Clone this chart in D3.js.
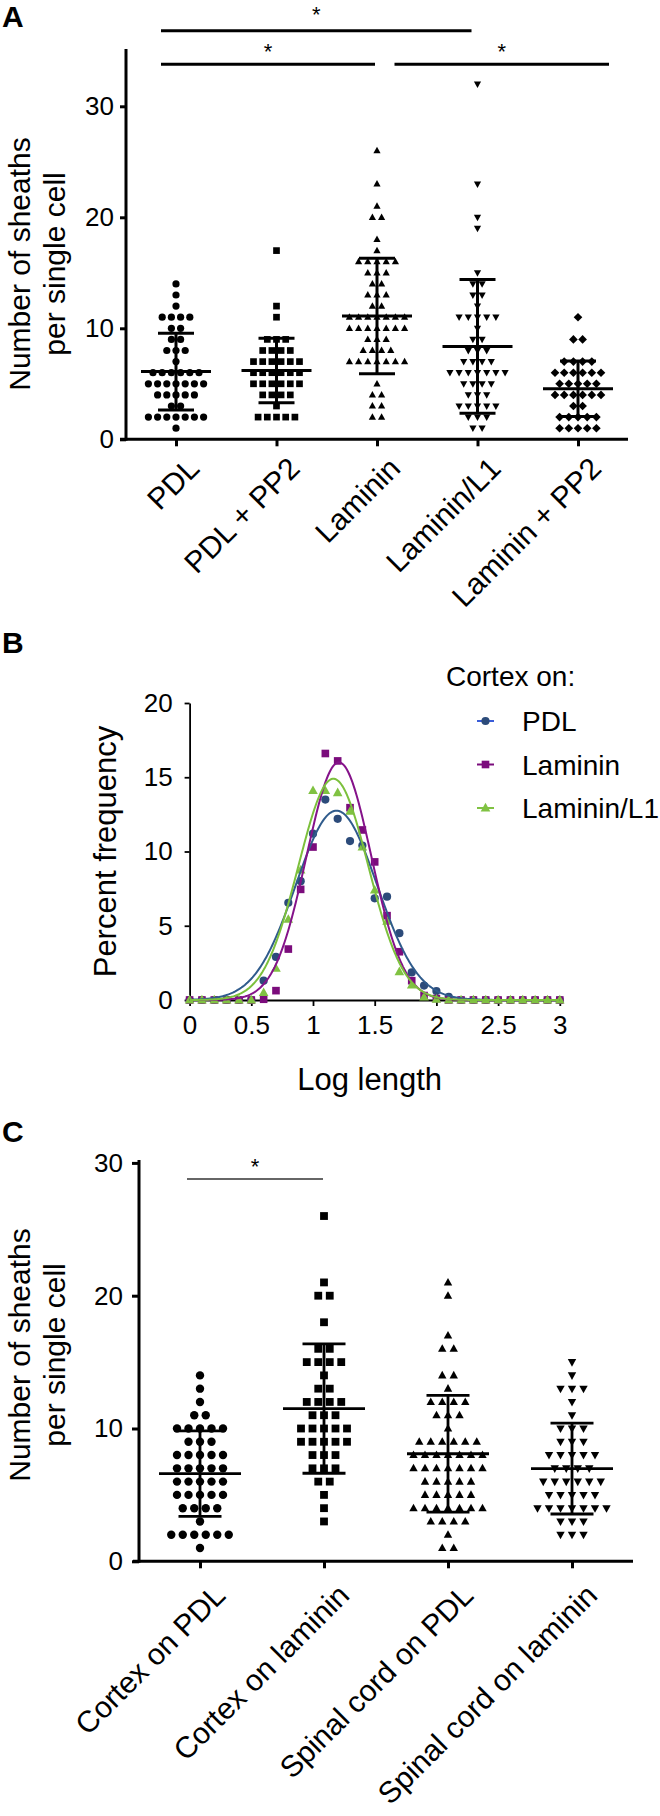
<!DOCTYPE html>
<html><head><meta charset="utf-8">
<script src="https://cdn.jsdelivr.net/npm/d3@7/dist/d3.min.js"></script>
<style>
body{margin:0;background:#fff}
svg{display:block}
text{font-family:"Liberation Sans",Arial,Helvetica,sans-serif;fill:#000}
</style>
</head><body>
<svg id="c" width="660" height="1816"></svg>
<script>
// ---------------- Panel A data ----------------
const catsA = ["PDL", "PDL + PP2", "Laminin", "Laminin/L1", "Laminin + PP2"];
const aPDL = [14,13,12,11,11,11,11,10,10,9,9,8,8,8,7,6,6,6,6,6,6,5,5,5,5,5,5,5,4,4,4,4,4,3,3,2,2,2,2,2,2,2,1];
const aPDLPP2 = [17,12,11,9,9,9,8,8,8,8,7,7,7,7,7,7,6,6,6,6,6,6,5,5,5,5,5,5,4,4,4,4,3,2,2,2,2,2];
const aLam = [26,23,21,20,20,18,17,16,16,16,16,16,15,15,15,14,14,13,13,13,12,12,11,11,11,11,11,11,11,10,10,10,10,10,10,10,9,9,9,8,8,8,8,7,7,7,7,7,7,7,5,4,4,3,3,2,2];
const aLamL1 = [32,23,20,19,15,14,14,13,13,12,11,11,11,11,11,10,9,9,8,8,8,7,7,7,7,6,6,6,6,6,6,6,5,5,5,5,4,4,4,3,3,3,3,3,2,2,2,1,1];
const aLamPP2 = [11,9,9,7,7,7,7,6,6,6,6,6,6,5,5,5,5,5,4,4,4,4,4,4,3,3,2,2,2,2,2,1,1,1,1,1];
const meansA = [6.1, 6.2, 11.1, 8.37, 4.55];
const sdsA = [3.45, 2.9, 5.2, 6.03, 2.5];
const yTicksA = [0, 10, 20, 30];

// ---------------- Panel B data ----------------
const logLength = [0,0.1,0.2,0.3,0.4,0.5,0.6,0.7,0.8,0.9,1.0,1.1,1.2,1.3,1.4,1.5,1.6,1.7,1.8,1.9,2.0,2.1,2.2,2.3,2.4,2.5,2.6,2.7,2.8,2.9,3.0];
const freqPDL = [0,0,0,0,0,0,1.3,2.9,6.55,8.0,11.2,13.5,12.2,10.7,10.4,6.85,6.96,4.5,1.86,0.97,0.6,0.22,0,0,0,0,0,0,0,0,0];
const freqLam = [0,0,0,0,0,0,0.05,0.63,3.43,7.45,10.3,16.6,16.1,12.95,11.45,9.3,5.68,3.25,1.3,0.3,0.1,0,0,0,0,0,0,0,0,0,0];
const freqL1  = [0,0,0,0,0,0,0.5,2.13,5.43,8.75,14.1,14.1,13.96,12.7,10.3,7.4,5.3,1.9,1.0,0.2,0.05,0,0,0,0,0,0,0,0,0,0];
const seriesB = ["PDL", "Laminin", "Laminin/L1"];
// Gaussian fit parameters: [amplitude, mean, sd]
const fitPDL = [12.75, 1.19, 0.33];
const fitLam = [16.0, 1.21, 0.262];
const fitL1  = [14.9, 1.165, 0.283];
const xTicksB = [0, 0.5, 1, 1.5, 2, 2.5, 3];
const yTicksB = [0, 5, 10, 15, 20];

// ---------------- Panel C data ----------------
const catsC = ["Cortex on PDL", "Cortex on laminin", "Spinal cord on PDL", "Spinal cord on laminin"];
const cCtxPDL = [14,13,12,11,11,10,10,10,10,10,9,9,9,8,8,8,8,8,7,7,7,7,7,6,6,6,6,6,5,5,5,5,5,4,4,4,4,3,2,2,2,2,2,2,1];
const cCtxLam = [26,21,20,20,18,16,16,15,15,15,15,14,13,13,12,12,12,12,11,11,11,10,10,10,10,10,9,9,9,9,9,8,8,8,7,7,7,6,6,5,4,3];
const cSpPDL = [21,20,17,16,16,14,14,13,12,12,12,12,11,11,11,10,9,9,9,9,9,9,8,8,8,8,8,8,8,7,7,7,7,7,7,7,6,6,6,6,6,5,5,5,5,5,4,4,4,4,4,4,4,3,3,3,3,2,1,1];
const cSpLam = [15,14,13,13,13,12,11,10,10,10,9,9,9,8,8,8,8,8,7,7,7,7,6,6,6,6,6,6,5,5,5,5,5,4,4,4,4,4,4,4,3,3,3,2,2,2];
const meansC = [6.6, 11.5, 8.1, 6.98];
const sdsC = [3.22, 4.87, 4.4, 3.42];
const yTicksC = [0, 10, 20, 30];

// ---------------- helpers ----------------
const svg = d3.select("#c");
const purple = "#7b0c7c", navy = "#2c4b7a", green = "#80c242";

function swarm(values, spacing) {
  const out = [];
  for (const [v, arr] of d3.group(values, d => d)) {
    const n = arr.length;
    arr.forEach((_, i) => out.push({ v, off: (i - (n - 1) / 2) * spacing }));
  }
  return out;
}
function shapePath(kind, s) {
  const h = s / 2;
  if (kind === "circle") return d3.symbol(d3.symbolCircle, Math.PI * h * h)();
  if (kind === "square") { const q = h * 0.93; return `M${-q},${-q}H${q}V${q}H${-q}Z`; }
  if (kind === "diamond") { const r = h * 1.2; return `M0,${-r}L${r},0L0,${r}L${-r},0Z`; }
  const th = s * 0.9;
  if (kind === "up") return `M0,${-th * 0.6}L${h},${th * 0.4}L${-h},${th * 0.4}Z`;
  if (kind === "down") return `M0,${th * 0.6}L${h},${-th * 0.4}L${-h},${-th * 0.4}Z`;
}

function scatterPanel(opt) {
  const g = svg.append("g");
  const x = d3.scalePoint(opt.cats, opt.xRange);
  const y = d3.scaleLinear(opt.yDomain, opt.yRange);
  opt.data.forEach((vals, i) => {
    const pts = swarm(vals, opt.spacing);
    g.append("g").selectAll("path").data(pts).join("path")
      .attr("d", shapePath(opt.shapes[i], opt.size))
      .attr("transform", d => `translate(${x(opt.cats[i]) + d.off},${y(d.v)})`)
      .attr("fill", "#000");
  });
  opt.cats.forEach((c, i) => {
    const cx = x(c), m = opt.means[i], s = opt.sds[i];
    const line = (x1, y1, x2, y2) => g.append("line")
      .attr("x1", x1).attr("y1", y1).attr("x2", x2).attr("y2", y2)
      .attr("stroke", "#000").attr("stroke-width", opt.lw);
    line(cx, y(m - s), cx, y(m + s));
    line(cx - opt.capW / 2, y(m + s), cx + opt.capW / 2, y(m + s));
    line(cx - opt.capW / 2, y(m - s), cx + opt.capW / 2, y(m - s));
    line(cx - opt.meanW / 2, y(m), cx + opt.meanW / 2, y(m));
  });
  const ya = g.append("g").attr("transform", `translate(${opt.axisX},0)`)
    .call(d3.axisLeft(y).tickValues(opt.yTicks).tickSize(opt.tickLen).tickSizeOuter(0).tickPadding(opt.tickPad));
  ya.select(".domain").attr("stroke-width", opt.axisW).attr("d", `M0,${y(0) + opt.axisW / 2}V${opt.axisTop}`);
  ya.selectAll(".tick line").attr("stroke-width", opt.axisW);
  ya.selectAll(".tick text").attr("font-size", opt.tickFont).attr("font-family", null);
  const xa = g.append("g").attr("transform", `translate(0,${y(0)})`)
    .call(d3.axisBottom(x).tickSize(opt.xTickLen).tickSizeOuter(0).tickFormat(""));
  xa.select(".domain").attr("stroke-width", opt.axisW)
    .attr("d", `M${opt.xLineStart},0H${opt.xLineEnd}`);
  xa.selectAll(".tick line").attr("stroke-width", opt.axisW);
  g.append("g").selectAll("text").data(opt.cats).join("text")
    .attr("transform", d => `translate(${x(d) + opt.labDx},${y(0) + opt.labDy}) rotate(-45)`)
    .attr("text-anchor", "end").attr("font-size", opt.labFont).text(d => d);
  const t = g.append("text").attr("transform", `translate(0,${opt.titleY}) rotate(-90)`)
    .attr("text-anchor", "middle").attr("font-size", opt.titleFont);
  opt.title.forEach((line, i) => t.append("tspan").attr("x", 0).attr("y", opt.titleX[i]).text(line));
  return { x, y, g };
}

// ---------------- Panel A ----------------
const A = scatterPanel({
  cats: catsA, xRange: [176, 578], yDomain: [0, 35], yRange: [439.3, 50.8],
  data: [aPDL, aPDLPP2, aLam, aLamL1, aLamPP2],
  shapes: ["circle", "square", "up", "down", "diamond"],
  spacing: 9.2, size: 7.2, means: meansA, sds: sdsA, lw: 3, meanW: 70, capW: 36,
  axisX: 126, axisTop: 49, axisW: 3, yTicks: yTicksA, tickLen: 6, tickPad: 6, tickFont: 26,
  xTickLen: 7, xLineStart: 120, xLineEnd: 628,
  labDx: 25, labDy: 31, labFont: 30,
  title: ["Number of sheaths", "per single cell"], titleX: [30, 65], titleY: 264, titleFont: 30
});
const sigA = [
  { from: "PDL", to: "Laminin/L1", y: 30.7, dxL: -15, dxR: -6, sy: 22 },
  { from: "PDL", to: "Laminin", y: 64.3, dxL: -15, dxR: -2, sy: 59 },
  { from: "Laminin/L1", to: "Laminin + PP2", y: 64.3, dxL: -83, dxR: 31, sy: 59 }
];
sigA.forEach(s => {
  const x1 = A.x(s.from) + s.dxL, x2 = A.x(s.to) + s.dxR;
  A.g.append("line").attr("x1", x1).attr("x2", x2).attr("y1", s.y).attr("y2", s.y)
    .attr("stroke", "#000").attr("stroke-width", 3);
  A.g.append("text").attr("x", (x1 + x2) / 2).attr("y", s.sy).attr("text-anchor", "middle")
    .attr("font-size", 22).text("*");
});
svg.append("text").attr("x", 2).attr("y", 27).attr("font-size", 30).attr("font-weight", "bold").text("A");

// ---------------- Panel B ----------------
const gB = svg.append("g");
const xB = d3.scaleLinear([0, 3], [189.6, 559.8]);
const yB = d3.scaleLinear([0, 20], [1000, 703]);
const colB = { PDL: navy, Laminin: purple, "Laminin/L1": green };
const curveCol = { PDL: "#2f5b8c", Laminin: "#85128a", "Laminin/L1": "#7cc03c" };
const shapeB = { PDL: "circle", Laminin: "square", "Laminin/L1": "up" };
const sizeB = { PDL: 8.2, Laminin: 8.2, "Laminin/L1": 9.6 };
const freqB = { PDL: freqPDL, Laminin: freqLam, "Laminin/L1": freqL1 };
const fitB = { PDL: fitPDL, Laminin: fitLam, "Laminin/L1": fitL1 };
const yaB = gB.append("g").attr("transform", `translate(${xB(0)},0)`)
  .call(d3.axisLeft(yB).tickValues(yTicksB).tickSize(5).tickSizeOuter(0).tickPadding(12));
yaB.selectAll("path,line").attr("stroke-width", 1.8);
yaB.selectAll("text").attr("font-size", 26).attr("font-family", null);
const xaB = gB.append("g").attr("transform", `translate(0,${yB(0)})`)
  .call(d3.axisBottom(xB).tickValues(xTicksB).tickSize(6).tickSizeOuter(0).tickPadding(10).tickFormat(d3.format("")));
xaB.selectAll("path,line").attr("stroke-width", 1.8);
xaB.selectAll("text").attr("font-size", 26).attr("font-family", null);
seriesB.forEach(s => {
  gB.append("g").selectAll("path").data(logLength.map((lx, i) => [lx, freqB[s][i]])).join("path")
    .attr("d", shapePath(shapeB[s], sizeB[s]))
    .attr("transform", d => `translate(${xB(d[0])},${yB(d[1])})`)
    .attr("fill", colB[s]);
});
const fitX = d3.range(0, 3.0001, 0.01);
seriesB.forEach(s => {
  const [a, mu, sd] = fitB[s];
  gB.append("path").datum(fitX.map(v => [v, a * Math.exp(-((v - mu) ** 2) / (2 * sd * sd))]))
    .attr("d", d3.line().x(d => xB(d[0])).y(d => yB(d[1])))
    .attr("fill", "none").attr("stroke", curveCol[s]).attr("stroke-width", 2);
});
gB.append("text").attr("transform", `translate(116,${(yB(0) + yB(20)) / 2}) rotate(-90)`)
  .attr("text-anchor", "middle").attr("font-size", 31).text("Percent frequency");
gB.append("text").attr("x", (xB(0) + xB(3)) / 2 - 5).attr("y", 1090).attr("text-anchor", "middle")
  .attr("font-size", 31).text("Log length");
gB.append("text").attr("x", 446).attr("y", 686).attr("font-size", 28).text("Cortex on:");
const legCol = { PDL: "#3a5cd8", Laminin: purple, "Laminin/L1": green };
seriesB.forEach((s, i) => {
  const ly = 721 + i * 43.5;
  gB.append("line").attr("x1", 477).attr("x2", 494).attr("y1", ly).attr("y2", ly)
    .attr("stroke", legCol[s]).attr("stroke-width", 2);
  gB.append("path").attr("d", shapePath(shapeB[s], sizeB[s]))
    .attr("transform", `translate(485.5,${ly})`).attr("fill", colB[s]);
  gB.append("text").attr("x", 522).attr("y", ly + 10).attr("font-size", 28).text(s);
});
svg.append("text").attr("x", 2).attr("y", 653).attr("font-size", 30).attr("font-weight", "bold").text("B");

// ---------------- Panel C ----------------
const C = scatterPanel({
  cats: catsC, xRange: [200, 572], yDomain: [0, 30], yRange: [1561.3, 1162.9],
  data: [cCtxPDL, cCtxLam, cSpPDL, cSpLam],
  shapes: ["circle", "square", "up", "down"],
  spacing: 11.5, size: 8.4, means: meansC, sds: sdsC, lw: 2.8, meanW: 82, capW: 43,
  axisX: 139, axisTop: 1160, axisW: 3, yTicks: yTicksC, tickLen: 7, tickPad: 9, tickFont: 26,
  xTickLen: 7, xLineStart: 133, xLineEnd: 633,
  labDx: 27, labDy: 36, labFont: 30,
  title: ["Number of sheaths", "per single cell"], titleX: [30, 65], titleY: 1355, titleFont: 30
});
{
  const x1 = C.x(catsC[0]) - 13, x2 = C.x(catsC[1]) - 1;
  C.g.append("line").attr("x1", x1).attr("x2", x2).attr("y1", 1179).attr("y2", 1179)
    .attr("stroke", "#333").attr("stroke-width", 1.6);
  C.g.append("text").attr("x", (x1 + x2) / 2).attr("y", 1174).attr("text-anchor", "middle")
    .attr("font-size", 22).text("*");
}
svg.append("text").attr("x", 2).attr("y", 1142).attr("font-size", 30).attr("font-weight", "bold").text("C");
</script>
</body></html>
